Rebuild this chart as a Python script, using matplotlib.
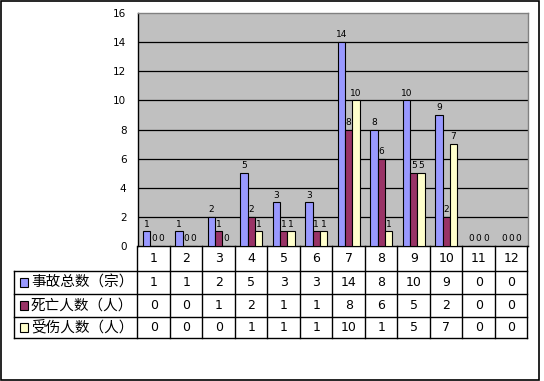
import matplotlib
matplotlib.use("Agg")
import matplotlib.pyplot as plt
from matplotlib.patches import Rectangle
import numpy as np

plt.rcParams['font.family'] = ['Noto Sans CJK SC', 'DejaVu Sans']

# ---- data ----
categories = ["1", "2", "3", "4", "5", "6", "7", "8", "9", "10", "11", "12"]
series_names = ["事故总数（宗）", "死亡人数（人）", "受伤人数（人）"]
total_accidents = [1, 1, 2, 5, 3, 3, 14, 8, 10, 9, 0, 0]
deaths = [0, 0, 1, 2, 1, 1, 8, 6, 5, 2, 0, 0]
injured = [0, 0, 0, 1, 1, 1, 10, 1, 5, 7, 0, 0]
y_ticks = [0, 2, 4, 6, 8, 10, 12, 14, 16]

series = [total_accidents, deaths, injured]
colors = ["#9999FF", "#993366", "#FFFFCC"]

W, H = 544, 381
fig = plt.figure(figsize=(W / 100, H / 100), dpi=100)
fig.patch.set_facecolor("white")

def fx(px):
    return px / W

def fy(py):
    return 1 - py / H

# outer frame
fig.add_artist(Rectangle((fx(1), fy(380)), fx(538), (379) / H, transform=fig.transFigure,
                         fill=False, edgecolor="black", linewidth=1.2))

# ---- main chart axes ----
L, R, T, B = 137.5, 527.5, 13, 246
ax = fig.add_axes([fx(L), fy(B), fx(R - L), (B - T) / H])
ax.set_facecolor("#C0C0C0")
n = len(categories)
x = np.arange(1, n + 1)
bw = 0.225
for i, (vals, c) in enumerate(zip(series, colors)):
    xs = x + (i - 1) * bw
    ax.bar(xs, vals, width=bw, color=c, edgecolor="black", linewidth=0.8, zorder=3)
    for xi, v in zip(xs, vals):
        ax.annotate(str(v), (xi, v), xytext=(0, 2), textcoords="offset points",
                    ha="center", va="bottom", fontsize=6.5, family="DejaVu Sans", zorder=4)

ax.set_xlim(0.5, n + 0.5)
ax.set_ylim(0, 16)
ax.set_yticks(y_ticks)
ax.set_yticklabels([str(t) for t in y_ticks], fontsize=7.5, family="DejaVu Sans")
ax.tick_params(axis="y", length=0, pad=8)
ax.set_xticks([])
for t in y_ticks[1:-1]:
    ax.axhline(t, color="black", linewidth=0.9, zorder=1)
ax.spines["left"].set_color("black")
ax.spines["bottom"].set_color("black")
ax.spines["top"].set_color("#808080")
ax.spines["right"].set_color("#808080")
for s in ax.spines.values():
    s.set_linewidth(1.0)

# ---- data table axes ----
TL, TT, TB = 14, 246, 338
tax = fig.add_axes([fx(TL), fy(TB), fx(R - TL), (TB - TT) / H])
x_left = 0.5 - (L - TL) / ((R - L) / n)
tax.set_xlim(x_left, n + 0.5)
tax.set_ylim(TB, TT)
tax.axis("off")
rows = [246, 271, 294, 317, 338]
lw = 1.0
# header row verticals
for k in range(n + 1):
    tax.plot([0.5 + k, 0.5 + k], [rows[0], rows[-1]], color="black", lw=lw, clip_on=False)
tax.plot([x_left, x_left], [rows[1], rows[-1]], color="black", lw=lw, clip_on=False)
for r in rows[1:]:
    tax.plot([x_left, n + 0.5], [r, r], color="black", lw=lw, clip_on=False)
# header labels
for k, lab in enumerate(categories):
    tax.text(k + 1, (rows[0] + rows[1]) / 2, lab, ha="center", va="center", fontsize=9,
             family="DejaVu Sans")
# data rows
for j, (name, vals, c) in enumerate(zip(series_names, series, colors)):
    yc = (rows[j + 1] + rows[j + 2]) / 2
    for k, v in enumerate(vals):
        tax.text(k + 1, yc, str(v), ha="center", va="center", fontsize=9, family="DejaVu Sans")
    # legend key
    fig.add_artist(Rectangle((fx(19.5), fy(yc + 4.5)), fx(8), 9 / H, transform=fig.transFigure,
                             facecolor=c, edgecolor="black", linewidth=0.8))
    fig.text(fx(31), fy(yc), name, ha="left", va="center", fontsize=10.5)

fig.savefig("out.png", dpi=100)
